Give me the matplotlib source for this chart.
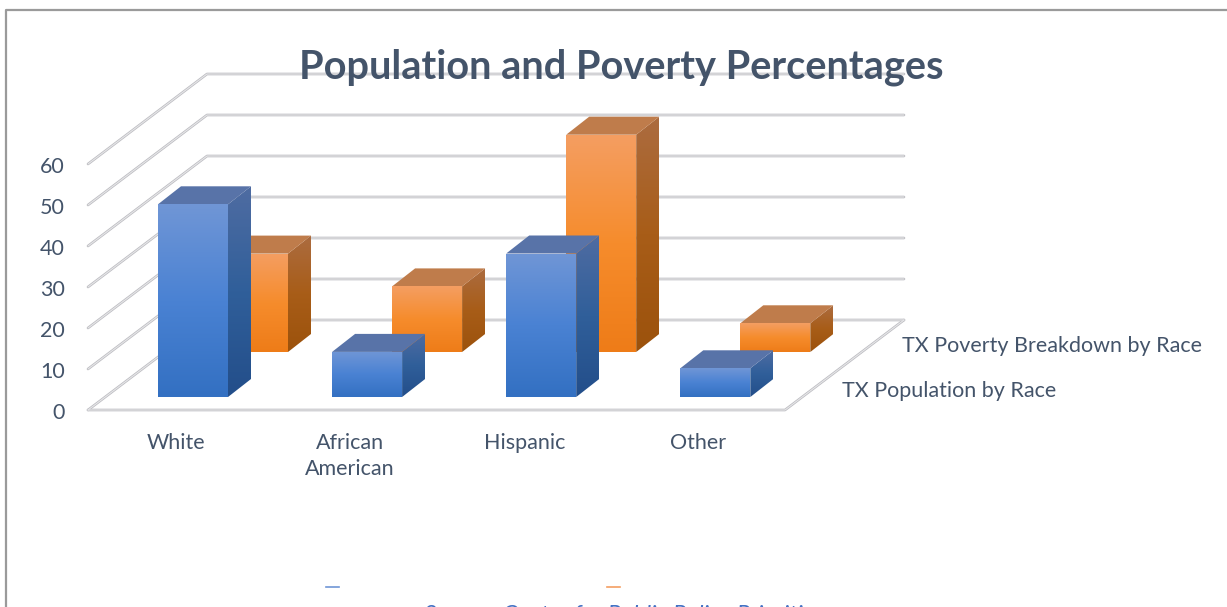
import matplotlib
matplotlib.use("Agg")
import matplotlib.pyplot as plt
import numpy as np
from matplotlib.colors import LinearSegmentedColormap
from matplotlib.patches import Polygon

# Data
CATEGORIES = ["White", "African\nAmerican", "Hispanic", "Other"]
POPULATION = [47, 11, 35, 7]
POVERTY = [24, 16, 53, 7]
Y_TICKS = [0, 10, 20, 30, 40, 50, 60]
SERIES_NAMES = ["TX Population by Race", "TX Poverty Breakdown by Race"]
TITLE = "Population and Poverty Percentages"
SOURCE = "Source: Center for Public Policy Priorities"

# Layout, in pixels of the original picture
OUTPUT_FILE = "out.png"
ORIGIN_X, ORIGIN_Y = 88, 410
FLOOR_W = 697
WALL_DX, WALL_DY = 119, -90
PX_PER_UNIT = 4.1
BAR_LEFT, BAR_STEP, BAR_W = 158, 174.1, 70
BAR_BASE = 397
BAR_DX, BAR_DY = 23, -18
SERIES_DX, SERIES_DY = 60, -45

TEXT_COLOR = "#44546A"
GRID_DARK = "#BCBCC1"
GRID_LIGHT = "#E6E6E8"
FONT = "Lato"

BLUE = {
    "front": ["#7096D6", "#4A82D3", "#3370C2"],
    "side": ["#4F6CA2", "#305F9A", "#234E8A"],
    "top": "#5873A8",
}
ORANGE = {
    "front": ["#F49E62", "#F68C2C", "#EE7C18"],
    "side": ["#AC6C40", "#A85D18", "#9C520C"],
    "top": "#BF7C4B",
}


def grid_line(ax, xs, ys):
    """Draw one of the doubled grey chart lines."""
    ax.plot(xs, ys, color=GRID_DARK, lw=1.9, solid_capstyle="round", zorder=1)
    ax.plot(xs, ys, color=GRID_LIGHT, lw=0.8, solid_capstyle="round", zorder=1.1)


def gradient_poly(ax, points, colors, zorder):
    """Fill a polygon with a vertical gradient."""
    points = np.array(points)
    cmap = LinearSegmentedColormap.from_list("face", colors)
    grad = np.linspace(0, 1, 256).reshape(-1, 1)
    x0, x1 = points[:, 0].min(), points[:, 0].max()
    y0, y1 = points[:, 1].min(), points[:, 1].max()
    img = ax.imshow(grad, cmap=cmap, extent=(x0, x1, y1, y0), aspect="auto", zorder=zorder)
    clip = Polygon(points, transform=ax.transData, fill=False, edgecolor="none")
    ax.add_patch(clip)
    img.set_clip_path(clip)


def draw_bar(ax, left, base, value, style, zorder):
    """Draw one 3D looking bar from its value."""
    right = left + BAR_W
    top = base - value * PX_PER_UNIT
    gradient_poly(ax, [(right, top), (right + BAR_DX, top + BAR_DY),
                       (right + BAR_DX, base + BAR_DY), (right, base)], style["side"], zorder)
    ax.add_patch(Polygon([(left, top), (left + BAR_DX, top + BAR_DY),
                          (right + BAR_DX, top + BAR_DY), (right, top)],
                         facecolor=style["top"], edgecolor="none", zorder=zorder))
    gradient_poly(ax, [(left, top), (right, top), (right, base), (left, base)],
                  style["front"], zorder)


def draw_frame(ax):
    """Walls, floor and outer border."""
    back_x = ORIGIN_X + WALL_DX
    for tick in Y_TICKS:
        y = ORIGIN_Y - tick * PX_PER_UNIT
        grid_line(ax, [ORIGIN_X, back_x, back_x + FLOOR_W],
                  [y, y + WALL_DY, y + WALL_DY])
    grid_line(ax, [ORIGIN_X, ORIGIN_X + FLOOR_W, back_x + FLOOR_W],
              [ORIGIN_Y, ORIGIN_Y, ORIGIN_Y + WALL_DY])
    ax.plot([6, 6, 1227], [607, 10, 10], color="#9A9A9A", lw=1.6, zorder=1)


def draw_text(ax):
    ax.text(621, 67, TITLE, fontsize=28.6, fontweight="bold", color=TEXT_COLOR,
            family=FONT, ha="center", va="center", zorder=10)
    for tick in Y_TICKS:
        ax.text(65, ORIGIN_Y + 3 - tick * PX_PER_UNIT, str(tick), fontsize=15.5, color=TEXT_COLOR,
                family=FONT, ha="right", va="center")
    for i, name in enumerate(CATEGORIES):
        ax.text(BAR_LEFT + BAR_STEP * i + 18, 433, name, fontsize=15.5, color=TEXT_COLOR,
                family=FONT, ha="center", va="top", linespacing=1.4)
    for i, name in enumerate(SERIES_NAMES):
        ax.text(842 + SERIES_DX * i, 391 + SERIES_DY * i, name, fontsize=15.5, color=TEXT_COLOR,
                family=FONT, ha="left", va="center")
    ax.text(624, 616, SOURCE, fontsize=17, style="italic", color="#4472C4",
            family=FONT, ha="center", va="center")


def main():
    fig = plt.figure(figsize=(12.27, 6.07), dpi=100)
    ax = fig.add_axes([0, 0, 1, 1])

    draw_frame(ax)
    for i, value in enumerate(POVERTY):
        draw_bar(ax, BAR_LEFT + BAR_STEP * i + SERIES_DX, BAR_BASE + SERIES_DY, value, ORANGE, 3)
    for i, value in enumerate(POPULATION):
        draw_bar(ax, BAR_LEFT + BAR_STEP * i, BAR_BASE, value, BLUE, 4)
    draw_text(ax)

    # what is left of the cut off legend
    ax.plot([326, 339], [586.5, 586.5], color=BLUE["front"][0], lw=1.2)
    ax.plot([607, 620], [586.5, 586.5], color=ORANGE["front"][0], lw=1.2)

    ax.set_xlim(0, 1227)
    ax.set_ylim(607, 0)
    ax.axis("off")
    fig.savefig(OUTPUT_FILE, dpi=100, facecolor="white")


if __name__ == "__main__":
    main()
